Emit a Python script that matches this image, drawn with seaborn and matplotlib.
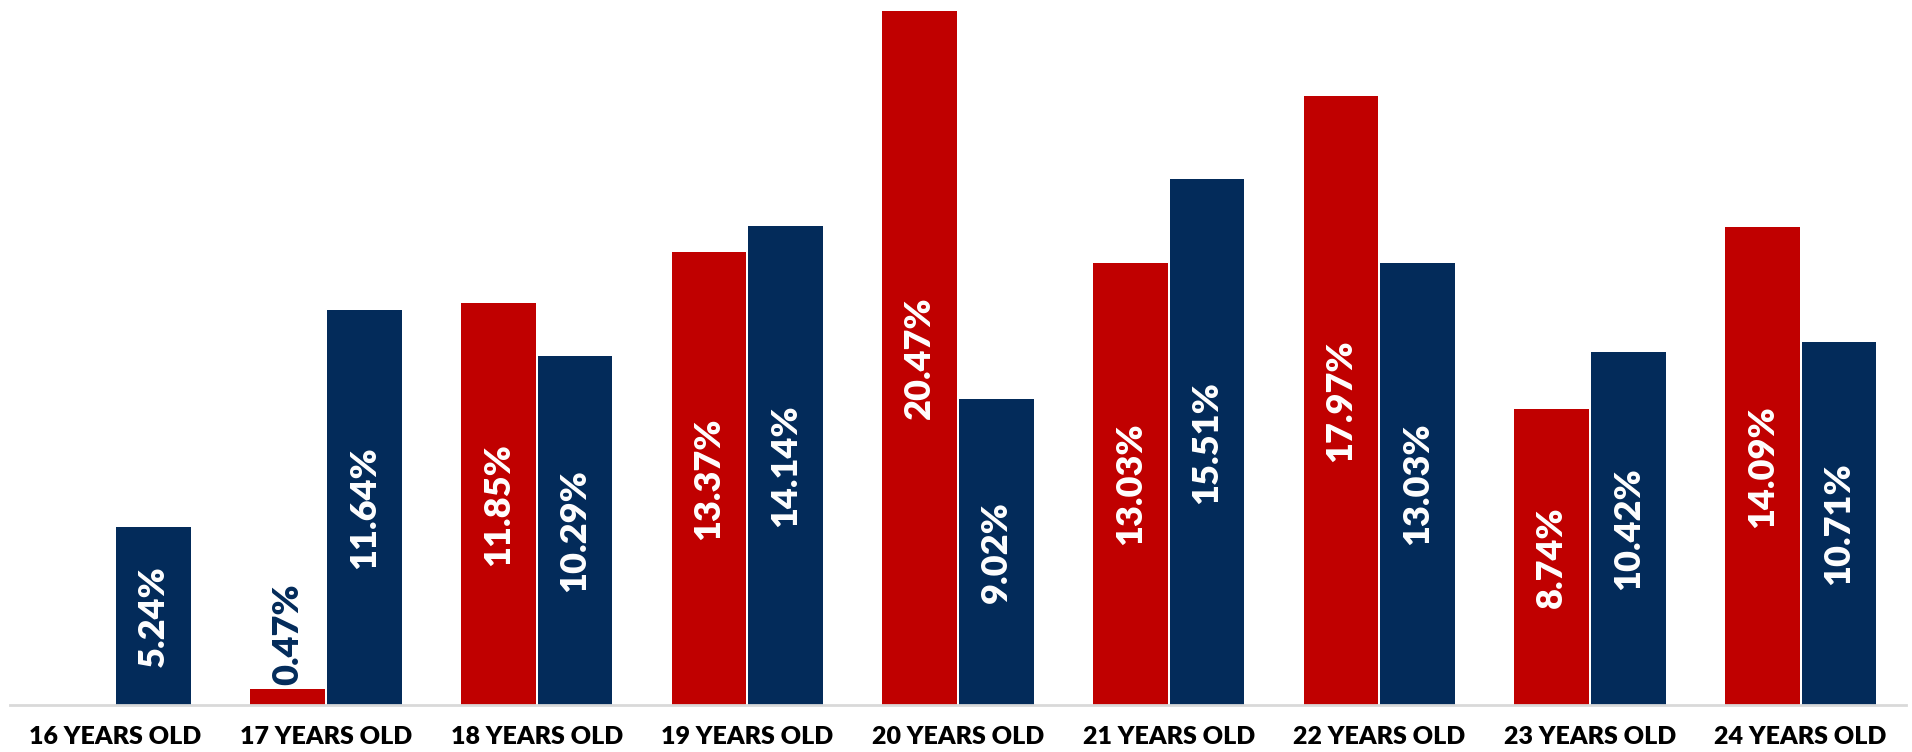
import numpy as np
import pandas as pd
import seaborn as sns
import matplotlib
matplotlib.use("Agg")
from matplotlib import pyplot as plt

# data
ages = ["16 YEARS OLD", "17 YEARS OLD", "18 YEARS OLD", "19 YEARS OLD", "20 YEARS OLD",
        "21 YEARS OLD", "22 YEARS OLD", "23 YEARS OLD", "24 YEARS OLD"]
series_a = [np.nan, 0.47, 11.85, 13.37, 20.47, 13.03, 17.97, 8.74, 14.09]
series_b = [5.24, 11.64, 10.29, 14.14, 9.02, 15.51, 13.03, 10.42, 10.71]
series_names = ["A", "B"]
colors = ["#C00000", "#032B5A"]

df = pd.DataFrame({
    "age": ages * 2,
    "share": series_a + series_b,
    "series": [series_names[0]] * len(ages) + [series_names[1]] * len(ages),
})

sns.set_style("white")
plt.rcParams["font.family"] = ["Lato", "DejaVu Sans"]

fig = plt.figure(figsize=(19.12, 7.52), dpi=100)
ax = fig.add_axes([10 / 1912, 47 / 752, 1896 / 1912, 694 / 752])

sns.barplot(data=df, x="age", y="share", hue="series", order=ages,
            hue_order=series_names, palette=colors, saturation=1,
            width=0.73, gap=0.03, linewidth=0, legend=False, ax=ax)

ax.set_xlim(-0.5, len(ages) - 0.5)
ax.set_ylim(0, np.nanmax(series_a + series_b))

# value labels: centered inside the bar, or above it when the bar is too short
for cont in ax.containers:
    for bar in cont:
        v = bar.get_height()
        if np.isnan(v) or v == 0:
            continue
        xc = bar.get_x() + bar.get_width() / 2
        if v < 3:
            ax.text(xc, v + 0.12, f"{v:.2f}%", rotation=90, ha="center", va="bottom",
                    color="#032B5A", fontsize=26, fontweight="heavy")
        else:
            ax.text(xc, v / 2, f"{v:.2f}%", rotation=90, ha="center", va="center",
                    color="white", fontsize=26, fontweight="heavy")

for s in ["top", "right", "left"]:
    ax.spines[s].set_visible(False)
ax.spines["bottom"].set_color("#d9d9d9")
ax.spines["bottom"].set_linewidth(2)
ax.set_yticks([])
ax.set_xlabel("")
ax.set_ylabel("")
ax.set_xticks(np.arange(-0.5, len(ages)), minor=True)
ax.tick_params(axis="x", which="minor", length=7, width=2, color="#d9d9d9", direction="out")
ax.tick_params(axis="x", which="major", length=0, pad=15)
for lbl in ax.get_xticklabels():
    lbl.set_fontsize(18)
    lbl.set_fontweight("heavy")
    lbl.set_color("black")

fig.savefig("out.png", dpi=100)
